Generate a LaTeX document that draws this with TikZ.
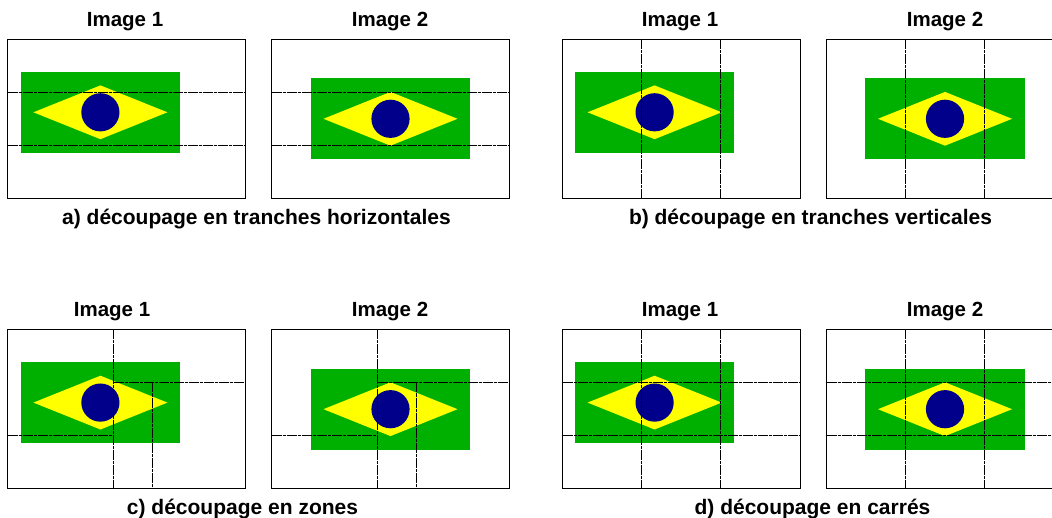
\documentclass[tikz,border=0pt]{standalone}
\usepackage{fontspec}
\setmainfont{Liberation Sans}
\definecolor{flaggreen}{HTML}{00B000}
\definecolor{flagyellow}{HTML}{FFFF00}
\definecolor{flagblue}{HTML}{00008B}
\tikzset{
  imgbox/.style={draw=black,line width=1pt,fill=none},
  cutline/.style={draw=black,line width=1.6pt,dash pattern=on 10pt off 1pt on 3pt off 1pt},
  ttl/.style={font=\bfseries\fontsize{20.5}{24}\selectfont,text=black,inner sep=0pt,anchor=base},
  capt/.style={font=\bfseries\fontsize{21}{24}\selectfont,text=black,inner sep=0pt,anchor=base},
}
\newcommand{\brflag}[2]{%
  \fill[flaggreen] (#1-79.6,#2-40.4) rectangle (#1+79.6,#2+40.4);
  \fill[flagyellow] (#1-67,#2) -- (#1,#2-26.9) -- (#1+67,#2) -- (#1,#2+26.9) -- cycle;
  \fill[flagblue] (#1,#2) circle (19.1);
}
\newcommand{\frames}[3]{%
  \draw[imgbox] (#1,#3) rectangle ++(238,159);
  \draw[imgbox] (#2,#3) rectangle ++(238,159);
}
\begin{document}
\begin{tikzpicture}[x=1pt,y=-1pt]
\useasboundingbox (0,0) rectangle (1052,518);
% panel a
\brflag{100.4}{112.3}\brflag{390.5}{118.8}
\frames{7.5}{271.5}{39.5}
\foreach \bx in {7.5,271.5}{
  \coordinate (l1) at (\bx,92.5); \coordinate (r1) at (\bx+238,92.5);
  \coordinate (l2) at (\bx,145.5); \coordinate (r2) at (\bx+238,145.5);
  \draw[cutline] (l1) -- (r1);
  \draw[cutline] (l2) -- (r2);
}
\node[ttl] (a1) at (125,27) {Image 1};
\node[ttl] (a2) at (390,27) {Image 2};
\node[capt] (acap) at (256.5,225) {a) découpage en tranches horizontales};
% panel b
\brflag{654.6}{112.3}\brflag{945}{118.8}
\frames{562.5}{826.5}{39.5}
\foreach \bx in {562,826}{
  \coordinate (t1) at (\bx+79.5,39.5); \coordinate (b1) at (\bx+79.5,198.5);
  \coordinate (t2) at (\bx+158.5,39.5); \coordinate (b2) at (\bx+158.5,198.5);
  \draw[cutline] (t1) -- (b1);
  \draw[cutline] (t2) -- (b2);
}
\node[ttl] (b1t) at (680,27) {Image 1};
\node[ttl] (b2t) at (945,27) {Image 2};
\node[capt] (bcap) at (810.5,225) {b) découpage en tranches verticales};
% panel c
\brflag{100.4}{402.6}\brflag{390.5}{409.2}
\frames{7.5}{271.5}{329.5}
\foreach \bx in {7.5,271.5}{
  \coordinate (v1t) at (\bx+106,329.5); \coordinate (v1b) at (\bx+106,488.5);
  \coordinate (v2t) at (\bx+145,382.5); \coordinate (v2b) at (\bx+145,488.5);
  \coordinate (h1l) at (\bx+106,382.5); \coordinate (h1r) at (\bx+238,382.5);
  \coordinate (h2l) at (\bx,435.5); \coordinate (h2r) at (\bx+106,435.5);
  \draw[cutline] (v1t) -- (v1b);
  \draw[cutline] (v2t) -- (v2b);
  \draw[cutline] (h1l) -- (h1r);
  \draw[cutline] (h2l) -- (h2r);
}
\node[ttl] (c1) at (112,317) {Image 1};
\node[ttl] (c2) at (390,317) {Image 2};
\node[capt] (ccap) at (242.5,514) {c) découpage en zones};
% panel d
\brflag{654.6}{402.6}\brflag{945}{409.2}
\frames{562.5}{826.5}{329.5}
\foreach \bx in {562,826}{
  \coordinate (vt1) at (\bx+79.5,329.5); \coordinate (vb1) at (\bx+79.5,488.5);
  \coordinate (vt2) at (\bx+158.5,329.5); \coordinate (vb2) at (\bx+158.5,488.5);
  \coordinate (hl1) at (\bx+0.5,382.5); \coordinate (hr1) at (\bx+238.5,382.5);
  \coordinate (hl2) at (\bx+0.5,435.5); \coordinate (hr2) at (\bx+238.5,435.5);
  \draw[cutline] (vt1) -- (vb1);
  \draw[cutline] (vt2) -- (vb2);
  \draw[cutline] (hl1) -- (hr1);
  \draw[cutline] (hl2) -- (hr2);
}
\node[ttl] (d1) at (680,317) {Image 1};
\node[ttl] (d2) at (945,317) {Image 2};
\node[capt] (dcap) at (812.5,514) {d) découpage en carrés};
\end{tikzpicture}
\end{document}
